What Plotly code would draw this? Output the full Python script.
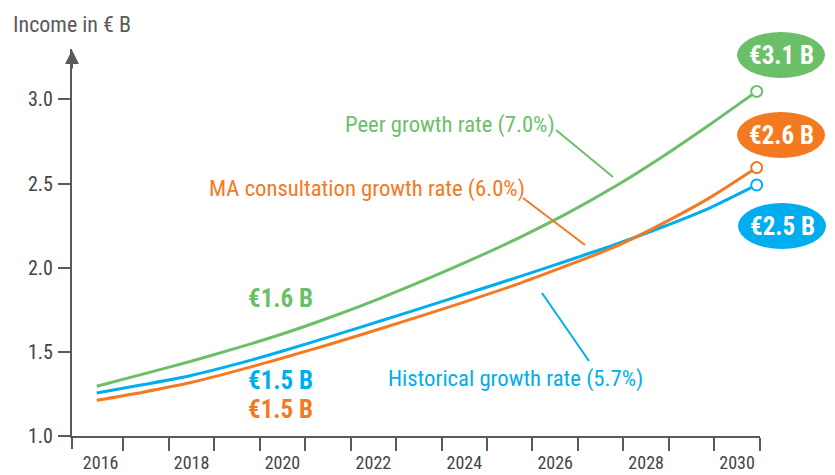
import plotly.graph_objects as go

# ---- data ----
years = list(range(2016, 2031))
peer = [1.296, 1.369, 1.444, 1.525, 1.612, 1.710, 1.817, 1.932, 2.054, 2.184, 2.326, 2.484, 2.660, 2.850, 3.048]
ma = [1.212, 1.262, 1.318, 1.390, 1.468, 1.550, 1.636, 1.724, 1.815, 1.910, 2.015, 2.125, 2.262, 2.415, 2.595]
hist = [1.256, 1.306, 1.360, 1.430, 1.510, 1.595, 1.682, 1.770, 1.860, 1.950, 2.043, 2.138, 2.242, 2.355, 2.492]
tick_years = [2016, 2018, 2020, 2022, 2024, 2026, 2028, 2030]
y_ticks = [1.0, 1.5, 2.0, 2.5, 3.0]
series_names = ["Peer growth rate (7.0%)", "MA consultation growth rate (6.0%)", "Historical growth rate (5.7%)"]
start_labels = ["€1.6 B", "€1.5 B", "€1.5 B"]
end_labels = ["€3.1 B", "€2.6 B", "€2.5 B"]

GREEN = "#6cbf69"
ORANGE = "#f47a21"
BLUE = "#00aeef"
GRAY = "#5a5a5a"
FONT = "Noto Sans Condensed, Roboto Condensed, Liberation Sans Narrow, DejaVu Sans Condensed, sans-serif"

W, H = 835, 475
OFF = 8  # page body margin
L, R, T, B = 72 - OFF, 760 - OFF, 49 - OFF, 436 - OFF


def px(x):
    return (x - OFF - L) / (R - L)


def py(y):
    return (B - (y - OFF)) / (B - T)


# year-bin boundaries for the x tick marks
bounds = [y + 0.5 for y in years]

fig = go.Figure()
# empty trace so the labelled year axis owns a subplot
fig.add_trace(go.Scatter(x=tick_years, y=[None] * len(tick_years), mode="lines", hoverinfo="skip"))
for vals, col in [(peer, GREEN), (hist, BLUE), (ma, ORANGE)]:
    fig.add_trace(go.Scatter(x=years, y=vals, xaxis="x2", mode="lines",
                             line=dict(color=col, width=3, shape="spline", smoothing=0.8),
                             hoverinfo="skip", cliponaxis=False))
for vals, col in [(peer, GREEN), (hist, BLUE), (ma, ORANGE)]:
    fig.add_trace(go.Scatter(x=[years[-1]], y=[vals[-1]], xaxis="x2", mode="markers",
                             marker=dict(size=11, color="white", line=dict(color=col, width=2)),
                             hoverinfo="skip", cliponaxis=False))

shapes = []
# origin tick under the x axis
shapes.append(dict(type="line", xref="paper", yref="paper", x0=0, x1=0, y0=0, y1=py(436 + 13),
                   line=dict(color=GRAY, width=2)))
# leader lines
for (x0, y0, x1, y1, col) in [(556, 130, 613, 177, GREEN), (523, 198, 585, 245, ORANGE), (542, 293, 589, 361, BLUE)]:
    shapes.append(dict(type="line", xref="paper", yref="paper", x0=px(x0), y0=py(y0), x1=px(x1), y1=py(y1),
                       line=dict(color=col, width=2)))
# pills
pills = [(781, 55, GREEN), (781, 135, ORANGE), (782, 226, BLUE)]
for (cx, cy, col) in pills:
    shapes.append(dict(type="circle", xref="paper", yref="paper", x0=px(cx - 44), x1=px(cx + 44),
                       y0=py(cy - 23), y1=py(cy + 23), fillcolor=col, line=dict(width=0), layer="below"))

ann = []
ann.append(dict(text="Income in € B", xref="paper", yref="paper", x=px(11), y=py(25), xanchor="left",
                yanchor="middle", showarrow=False, font=dict(size=22, color=GRAY, family=FONT)))
# axis arrow head
ann.append(dict(text="", xref="paper", yref="paper", x=0, y=py(50), ax=0, ay=20, showarrow=True,
                arrowhead=2, arrowsize=1.4, arrowwidth=2, arrowcolor=GRAY, standoff=0))
# series labels
for (t, cx, cy, col) in [(series_names[0], 343, 125, GREEN),
                         (series_names[1], 207, 188, ORANGE),
                         (series_names[2], 386, 378, BLUE)]:
    ann.append(dict(text=t, xref="paper", yref="paper", x=px(cx), y=py(cy), xanchor="left", yanchor="middle",
                    showarrow=False, font=dict(size=22.7, color=col, family=FONT)))
for (t, cy, col) in [(start_labels[0], 298, GREEN), (start_labels[1], 380, BLUE), (start_labels[2], 409, ORANGE)]:
    ann.append(dict(text="<b>" + t + "</b>", xref="paper", yref="paper", x=px(280), y=py(cy), xanchor="center",
                    yanchor="middle", showarrow=False, font=dict(size=25, color=col, family=FONT)))
for (t, (cx, cy, col)) in zip(end_labels, pills):
    ann.append(dict(text="<b>" + t + "</b>", xref="paper", yref="paper", x=px(cx), y=py(cy), xanchor="center",
                    yanchor="middle", showarrow=False, font=dict(size=25, color="white", family=FONT)))

fig.update_layout(
    width=W, height=H,
    margin=dict(l=L, r=W - R, t=T, b=H - B, pad=0),
    plot_bgcolor="white", paper_bgcolor="white",
    showlegend=False,
    font=dict(family=FONT, color=GRAY, size=20),
    xaxis=dict(range=[2015.37, 2030.505], tickmode="array", tickvals=tick_years,
               ticktext=[str(y) for y in tick_years], automargin=False,
               ticks="outside", ticklen=9, tickcolor="rgba(0,0,0,0)", showline=True, linecolor=GRAY,
               linewidth=2, showgrid=False, zeroline=False, ticklabelstandoff=0,
               tickfont=dict(size=18, color="#444", family=FONT),
               minor=dict(tickmode="array", tickvals=bounds, ticks="outside", ticklen=13,
                          tickcolor=GRAY, tickwidth=2, showgrid=False)),
    xaxis2=dict(range=[2015.476, 2030.07], overlaying="x", visible=False),
    yaxis=dict(range=[1.0, 3.3], tickvals=y_ticks, tickformat=".1f", ticks="outside", ticklen=12,
               tickwidth=2, tickcolor=GRAY, showline=True, linecolor=GRAY, linewidth=2, showgrid=False,
               zeroline=False, ticklabelstandoff=1, automargin=False,
               tickfont=dict(size=20, color="#444", family=FONT)),
    shapes=shapes,
    annotations=ann,
)

fig.write_html("out.html")
